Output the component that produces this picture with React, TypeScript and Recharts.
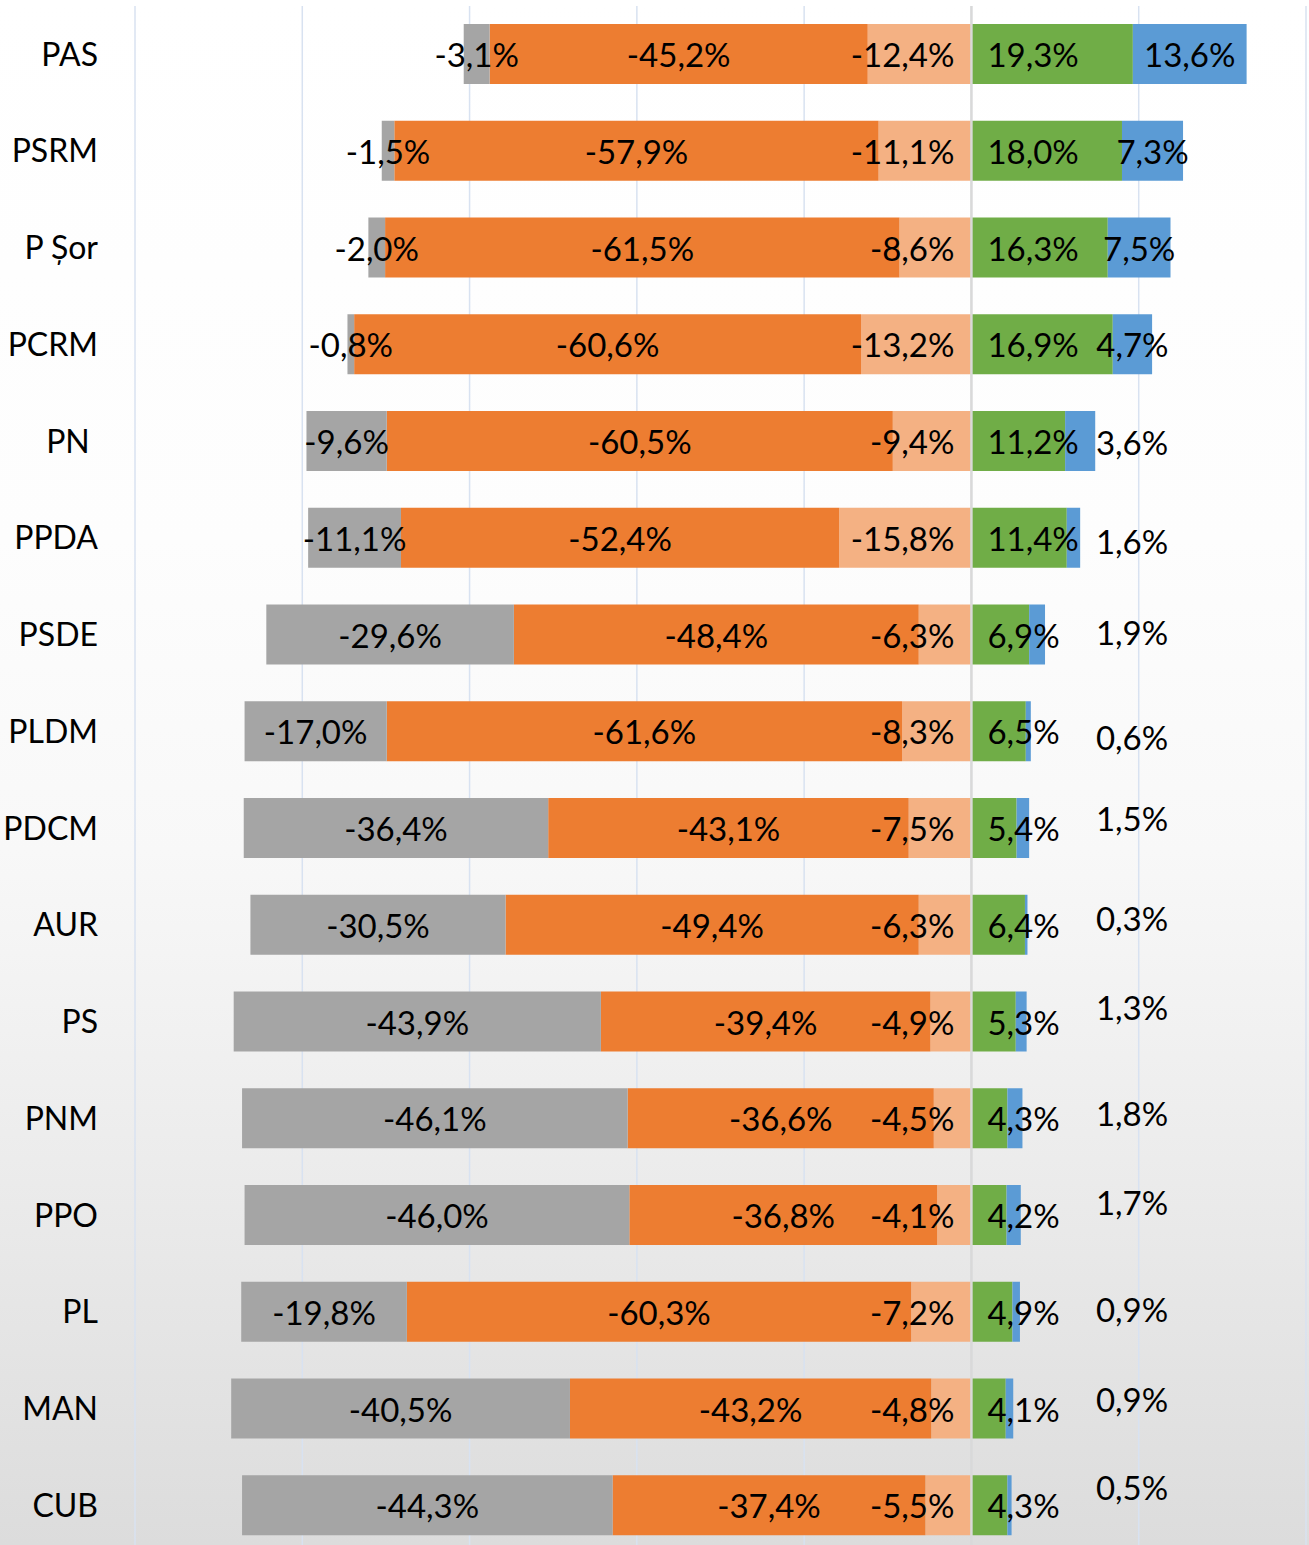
import { BarChart, Bar, XAxis, YAxis, CartesianGrid, ReferenceLine, LabelList } from 'recharts';

const parties = ['PAS', 'PSRM', 'P Șor', 'PCRM', 'PN\u00A0', 'PPDA', 'PSDE', 'PLDM', 'PDCM', 'AUR', 'PS', 'PNM', 'PPO', 'PL', 'MAN', 'CUB'];

// negative side (shown left of zero)
const veryBad = [-3.1, -1.5, -2.0, -0.8, -9.6, -11.1, -29.6, -17.0, -36.4, -30.5, -43.9, -46.1, -46.0, -19.8, -40.5, -44.3];
const bad = [-45.2, -57.9, -61.5, -60.6, -60.5, -52.4, -48.4, -61.6, -43.1, -49.4, -39.4, -36.6, -36.8, -60.3, -43.2, -37.4];
const ratherBad = [-12.4, -11.1, -8.6, -13.2, -9.4, -15.8, -6.3, -8.3, -7.5, -6.3, -4.9, -4.5, -4.1, -7.2, -4.8, -5.5];
// positive side
const ratherGood = [19.3, 18.0, 16.3, 16.9, 11.2, 11.4, 6.9, 6.5, 5.4, 6.4, 5.3, 4.3, 4.2, 4.9, 4.1, 4.3];
const good = [13.6, 7.3, 7.5, 4.7, 3.6, 1.6, 1.9, 0.6, 1.5, 0.3, 1.3, 1.8, 1.7, 0.9, 0.9, 0.5];

const xTicks = [-100, -80, -60, -40, -20, 0, 20, 40];

const rows = parties.map((name, i) => ({
  name,
  ratherBad: ratherBad[i],
  bad: bad[i],
  veryBad: veryBad[i],
  ratherGood: ratherGood[i],
  good: good[i],
}));

// small blue labels were dragged out of their bars in the original
const OUTSIDE_AT = 19.2;
const outsideNudgeY = [0, 0, 0, 0, 1, 3, -3, 6, -10, -7, -15, -5, -13, -3, -10, -18];

const FONT = 'Lato, "Open Sans", sans-serif';
const fmt = (v: number) => v.toFixed(1).replace('.', ',') + '%';

const box = (p: any) => {
  const vb = p.viewBox ?? p;
  const x = Number(vb.x ?? p.x);
  const w = Number(vb.width ?? p.width);
  const y = Number(vb.y ?? p.y);
  const h = Number(vb.height ?? p.height);
  return { left: Math.min(x, x + w), right: Math.max(x, x + w), cy: y + h / 2, w: Math.abs(w) };
};

const txt = (x: number, y: number, s: string, anchor: 'start' | 'middle' | 'end') => (
  <text x={x} y={y} textAnchor={anchor} dominantBaseline="central" fontSize={33} fontFamily={FONT} fill="#000">
    {s}
  </text>
);

const centerLabel = (p: any) => {
  const b = box(p);
  return txt((b.left + b.right) / 2, b.cy, fmt(Number(p.value)), 'middle');
};

const baseLabelNeg = (p: any) => {
  const b = box(p);
  return txt(b.right - 17, b.cy, fmt(Number(p.value)), 'end');
};

const baseLabelPos = (p: any) => {
  const b = box(p);
  return txt(b.left + 16, b.cy, fmt(Number(p.value)), 'start');
};

const goodLabel = (p: any) => {
  const b = box(p);
  const v = Number(p.value);
  const i = Number(p.index);
  if (v >= 4) return txt((b.left + b.right) / 2, b.cy, fmt(v), 'middle');
  const perUnit = b.w / v;
  const zero = b.left - ratherGood[i] * perUnit;
  return txt(zero + OUTSIDE_AT * perUnit, b.cy + outsideNudgeY[i], fmt(v), 'middle');
};

const App = () => {
  return (
    <div
      style={{
        width: 1309,
        height: 1545,
        overflow: 'hidden',
        background: 'linear-gradient(to bottom, #ffffff 0%, #fdfdfd 35%, #f8f8f8 55%, #ececec 75%, #dcdcdc 100%)',
      }}
    >
      <style>{'body{margin:0}'}</style>
      <BarChart
        layout="vertical"
        width={1309}
        height={1554}
        data={rows}
        stackOffset="sign"
        barSize={60}
        margin={{ top: 6, right: 3, bottom: 0, left: 0 }}
      >
        <CartesianGrid horizontal={false} stroke="#d8e2f1" strokeWidth={1.5} />
        <XAxis type="number" domain={[-100, 40]} ticks={xTicks} hide />
        <YAxis
          type="category"
          dataKey="name"
          width={135}
          axisLine={false}
          tickLine={false}
          tickSize={0}
          tickMargin={37}
          tick={{ fontSize: 32, fontFamily: FONT, fill: '#000' }}
        />
        <Bar dataKey="ratherBad" stackId="s" fill="#F4B183" isAnimationActive={false}>
          <LabelList dataKey="ratherBad" content={baseLabelNeg} />
        </Bar>
        <Bar dataKey="bad" stackId="s" fill="#ED7D31" isAnimationActive={false}>
          <LabelList dataKey="bad" content={centerLabel} />
        </Bar>
        <Bar dataKey="veryBad" stackId="s" fill="#A5A5A5" isAnimationActive={false}>
          <LabelList dataKey="veryBad" content={centerLabel} />
        </Bar>
        <Bar dataKey="ratherGood" stackId="s" fill="#70AD47" isAnimationActive={false}>
          <LabelList dataKey="ratherGood" content={baseLabelPos} />
        </Bar>
        <Bar dataKey="good" stackId="s" fill="#5B9BD5" isAnimationActive={false}>
          <LabelList dataKey="good" content={goodLabel} />
        </Bar>
        <ReferenceLine x={0} stroke="#d9d9d9" strokeWidth={2.5} />
      </BarChart>
    </div>
  );
};

export default App;
